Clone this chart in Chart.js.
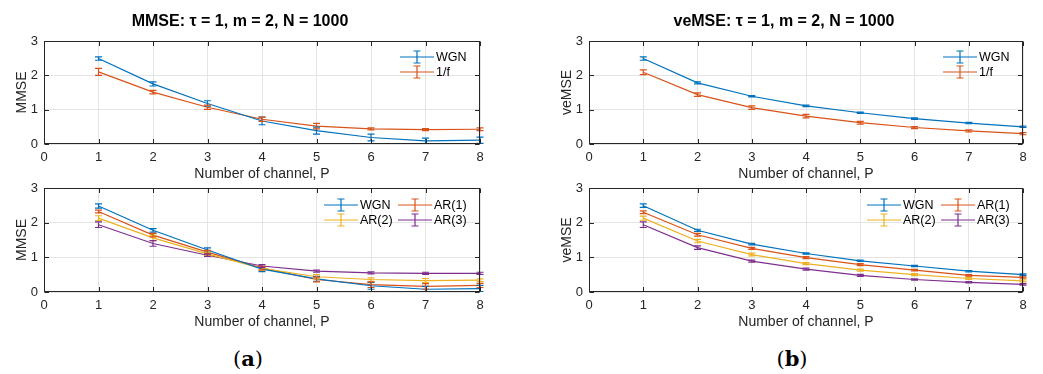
<!DOCTYPE html>
<html><head><meta charset="utf-8">
<script src="https://cdn.jsdelivr.net/npm/chart.js@4/dist/chart.umd.min.js"></script>
<style>
html,body{margin:0;padding:0;background:#fff;}
#wrap{position:relative;width:1043px;height:374px;overflow:hidden;}
canvas{position:absolute;}
.cap{position:absolute;top:348px;font-family:"DejaVu Serif",serif;font-size:21px;line-height:21px;color:#000;transform:translateX(-50%);white-space:nowrap;}
</style></head><body>
<div id="wrap">
  <canvas id="c1" width="494" height="185" style="left:0;top:0"></canvas>
  <canvas id="c2" width="494" height="185" style="left:545px;top:0"></canvas>
  <canvas id="c3" width="494" height="163" style="left:0;top:170px"></canvas>
  <canvas id="c4" width="494" height="163" style="left:545px;top:170px"></canvas>
  <div class="cap" style="left:248px">(<b>a</b>)</div>
  <div class="cap" style="left:792px">(<b>b</b>)</div>
</div>
<script>
'use strict';
// number of channels
const P=[1,2,3,4,5,6,7,8];
const xTicks=[0,1,2,3,4,5,6,7,8], yTicks=[0,1,2,3];

// (a) top: MMSE, WGN vs 1/f
const mmseWgn=[2.49,1.75,1.18,0.67,0.39,0.19,0.09,0.11];
const mmseWgnErr=[0.05,0.06,0.08,0.11,0.10,0.10,0.08,0.09];
const mmsePink=[2.10,1.51,1.07,0.72,0.52,0.44,0.42,0.43];
const mmsePinkErr=[0.10,0.05,0.06,0.06,0.08,0.03,0.03,0.04];
// (b) top: veMSE, WGN vs 1/f
const vemseWgn=[2.49,1.78,1.39,1.11,0.91,0.74,0.61,0.50];
const vemseWgnErr=[0.05,0.03,0.02,0.02,0.02,0.02,0.02,0.02];
const vemsePink=[2.09,1.44,1.06,0.81,0.62,0.48,0.38,0.30];
const vemsePinkErr=[0.07,0.05,0.05,0.05,0.04,0.03,0.03,0.03];
// (a) bottom: MMSE, AR processes
const mmseArWgn=[2.48,1.78,1.21,0.66,0.38,0.18,0.08,0.10];
const mmseArWgnErr=[0.06,0.05,0.06,0.07,0.07,0.10,0.08,0.09];
const mmseAr1=[2.32,1.64,1.15,0.69,0.36,0.21,0.16,0.19];
const mmseAr1Err=[0.04,0.05,0.05,0.05,0.07,0.08,0.08,0.06];
const mmseAr2=[2.13,1.56,1.10,0.68,0.44,0.36,0.33,0.34];
const mmseAr2Err=[0.07,0.08,0.05,0.06,0.06,0.05,0.06,0.04];
const mmseAr3=[1.94,1.40,1.06,0.75,0.60,0.55,0.54,0.54];
const mmseAr3Err=[0.08,0.08,0.03,0.04,0.03,0.03,0.03,0.03];
// (b) bottom: veMSE, AR processes
const vemseArWgn=[2.49,1.78,1.38,1.11,0.90,0.75,0.60,0.50];
const vemseArWgnErr=[0.05,0.03,0.02,0.02,0.02,0.02,0.02,0.02];
const vemseAr1=[2.30,1.65,1.26,0.99,0.79,0.63,0.48,0.42];
const vemseAr1Err=[0.04,0.04,0.03,0.03,0.03,0.02,0.02,0.02];
const vemseAr2=[2.13,1.47,1.08,0.82,0.63,0.50,0.39,0.32];
const vemseAr2Err=[0.06,0.05,0.04,0.03,0.03,0.03,0.03,0.03];
const vemseAr3=[1.94,1.28,0.89,0.66,0.48,0.36,0.28,0.22];
const vemseAr3Err=[0.08,0.05,0.03,0.03,0.03,0.02,0.02,0.02];

const BLUE='#0072BD', ORANGE='#D95319', YELLOW='#EDB120', PURPLE='#7E2F8E';
const FONT='"Liberation Sans", Arial, sans-serif';
Chart.defaults.font.family=FONT;

// error bars, axes box with inward ticks, legend inside the axes (matlab look)
const matlabBox={
  id:'matlabBox',
  afterDatasetsDraw(chart){
    const {ctx,chartArea:a,scales:{x,y}}=chart;
    ctx.save();
    ctx.beginPath(); ctx.rect(a.left-6,a.top,a.width+12,a.height); ctx.clip();
    chart.data.datasets.forEach(ds=>{
      ctx.strokeStyle=ds.borderColor; ctx.lineWidth=1.2;
      ds.data.forEach((pt,i)=>{
        const px=x.getPixelForValue(pt.x), lo=y.getPixelForValue(pt.y-ds.err[i]), hi=y.getPixelForValue(pt.y+ds.err[i]);
        ctx.beginPath();
        ctx.moveTo(px,lo); ctx.lineTo(px,hi);
        ctx.moveTo(px-3.5,lo); ctx.lineTo(px+3.5,lo);
        ctx.moveTo(px-3.5,hi); ctx.lineTo(px+3.5,hi);
        ctx.stroke();
      });
    });
    ctx.restore();
  },
  afterDraw(chart,args,opts){
    const {ctx,chartArea:a,scales:{x,y}}=chart;
    const L=Math.round(a.left)+.5, R=Math.round(a.right)-.5, T=Math.round(a.top)+.5, B=Math.round(a.bottom)-.5;
    ctx.save();
    ctx.strokeStyle='#262626'; ctx.lineWidth=1;
    ctx.strokeRect(L,T,R-L,B-T);
    ctx.beginPath();
    xTicks.forEach(v=>{ const px=Math.round(x.getPixelForValue(v))+.5; ctx.moveTo(px,B); ctx.lineTo(px,B-4.5); ctx.moveTo(px,T); ctx.lineTo(px,T+4.5); });
    yTicks.forEach(v=>{ const py=Math.round(y.getPixelForValue(v))+.5; ctx.moveTo(L,py); ctx.lineTo(L+4.5,py); ctx.moveTo(R,py); ctx.lineTo(R-4.5,py); });
    ctx.stroke();
    // legend
    ctx.font='12.5px '+FONT; ctx.textBaseline='middle'; ctx.textAlign='left';
    chart.data.datasets.forEach((ds,i)=>{
      const [dx,dy]=opts.at[i], x0=a.right+dx, y0=a.top+dy;
      ctx.strokeStyle=ds.borderColor; ctx.lineWidth=1.2;
      ctx.beginPath();
      ctx.moveTo(x0,y0); ctx.lineTo(x0+34,y0);
      ctx.moveTo(x0+17,y0-6); ctx.lineTo(x0+17,y0+6);
      ctx.moveTo(x0+13.5,y0-6); ctx.lineTo(x0+20.5,y0-6);
      ctx.moveTo(x0+13.5,y0+6); ctx.lineTo(x0+20.5,y0+6);
      ctx.stroke();
      ctx.fillStyle='#000'; ctx.fillText(ds.label,x0+36,y0+0.5);
    });
    ctx.restore();
  }
};

function panel(id, title, yTitle, series, at, padTop){
  return new Chart(document.getElementById(id),{
    type:'line',
    data:{datasets:series.map(s=>({label:s.label, data:P.map((p,i)=>({x:p,y:s.vals[i]})), err:s.err,
      borderColor:s.color, backgroundColor:s.color, borderWidth:1.2, pointRadius:0, tension:0, fill:false}))},
    options:{responsive:false, animation:false, events:[],
      layout:{padding:{left:0,right:id==='c1'||id==='c3'?14:16,top:padTop,bottom:0}},
      plugins:{legend:{display:false}, tooltip:{enabled:false},
        title:{display:!!title, text:title, color:'#000', font:{size:16,weight:'bold'}, padding:{top:12.4,bottom:9.4}},
        matlabBox:{at}},
      scales:{
        x:{type:'linear', min:0, max:8,
          afterBuildTicks:s=>{ s.ticks=xTicks.map(v=>({value:v})); },
          ticks:{color:'#262626', font:{size:13}, padding:6, maxRotation:0, autoSkip:false},
          grid:{color:'#e4e4e4', drawTicks:false}, border:{display:false},
          title:{display:true, text:'Number of channel, P', color:'#262626', font:{size:14}, padding:{top:0,bottom:2.6}},
          afterFit:s=>{ s.height=41; }},
        y:{type:'linear', min:0, max:3,
          afterBuildTicks:s=>{ s.ticks=yTicks.map(v=>({value:v})); },
          ticks:{color:'#262626', font:{size:13}, padding:6},
          grid:{color:'#e4e4e4', drawTicks:false}, border:{display:false},
          title:{display:true, text:yTitle, color:'#262626', font:{size:14}, padding:{top:13.6,bottom:0}},
          afterFit:s=>{ s.width=44; }}
      }},
    plugins:[matlabBox]
  });
}

const topAt=[[-80,16],[-80,31]];
const botAt=[[-156,17],[-156,32],[-82,17],[-82,32]];
panel('c1','MMSE: τ = 1, m = 2, N = 1000','MMSE',[
  {label:'WGN',vals:mmseWgn,err:mmseWgnErr,color:BLUE},
  {label:'1/f',vals:mmsePink,err:mmsePinkErr,color:ORANGE}],topAt,0);
panel('c2','veMSE: τ = 1, m = 2, N = 1000','veMSE',[
  {label:'WGN',vals:vemseWgn,err:vemseWgnErr,color:BLUE},
  {label:'1/f',vals:vemsePink,err:vemsePinkErr,color:ORANGE}],topAt,0);
panel('c3','','MMSE',[
  {label:'WGN',vals:mmseArWgn,err:mmseArWgnErr,color:BLUE},
  {label:'AR(2)',vals:mmseAr2,err:mmseAr2Err,color:YELLOW},
  {label:'AR(1)',vals:mmseAr1,err:mmseAr1Err,color:ORANGE},
  {label:'AR(3)',vals:mmseAr3,err:mmseAr3Err,color:PURPLE}],botAt,18);
panel('c4','','veMSE',[
  {label:'WGN',vals:vemseArWgn,err:vemseArWgnErr,color:BLUE},
  {label:'AR(2)',vals:vemseAr2,err:vemseAr2Err,color:YELLOW},
  {label:'AR(1)',vals:vemseAr1,err:vemseAr1Err,color:ORANGE},
  {label:'AR(3)',vals:vemseAr3,err:vemseAr3Err,color:PURPLE}],botAt,18);
</script>
</body></html>
